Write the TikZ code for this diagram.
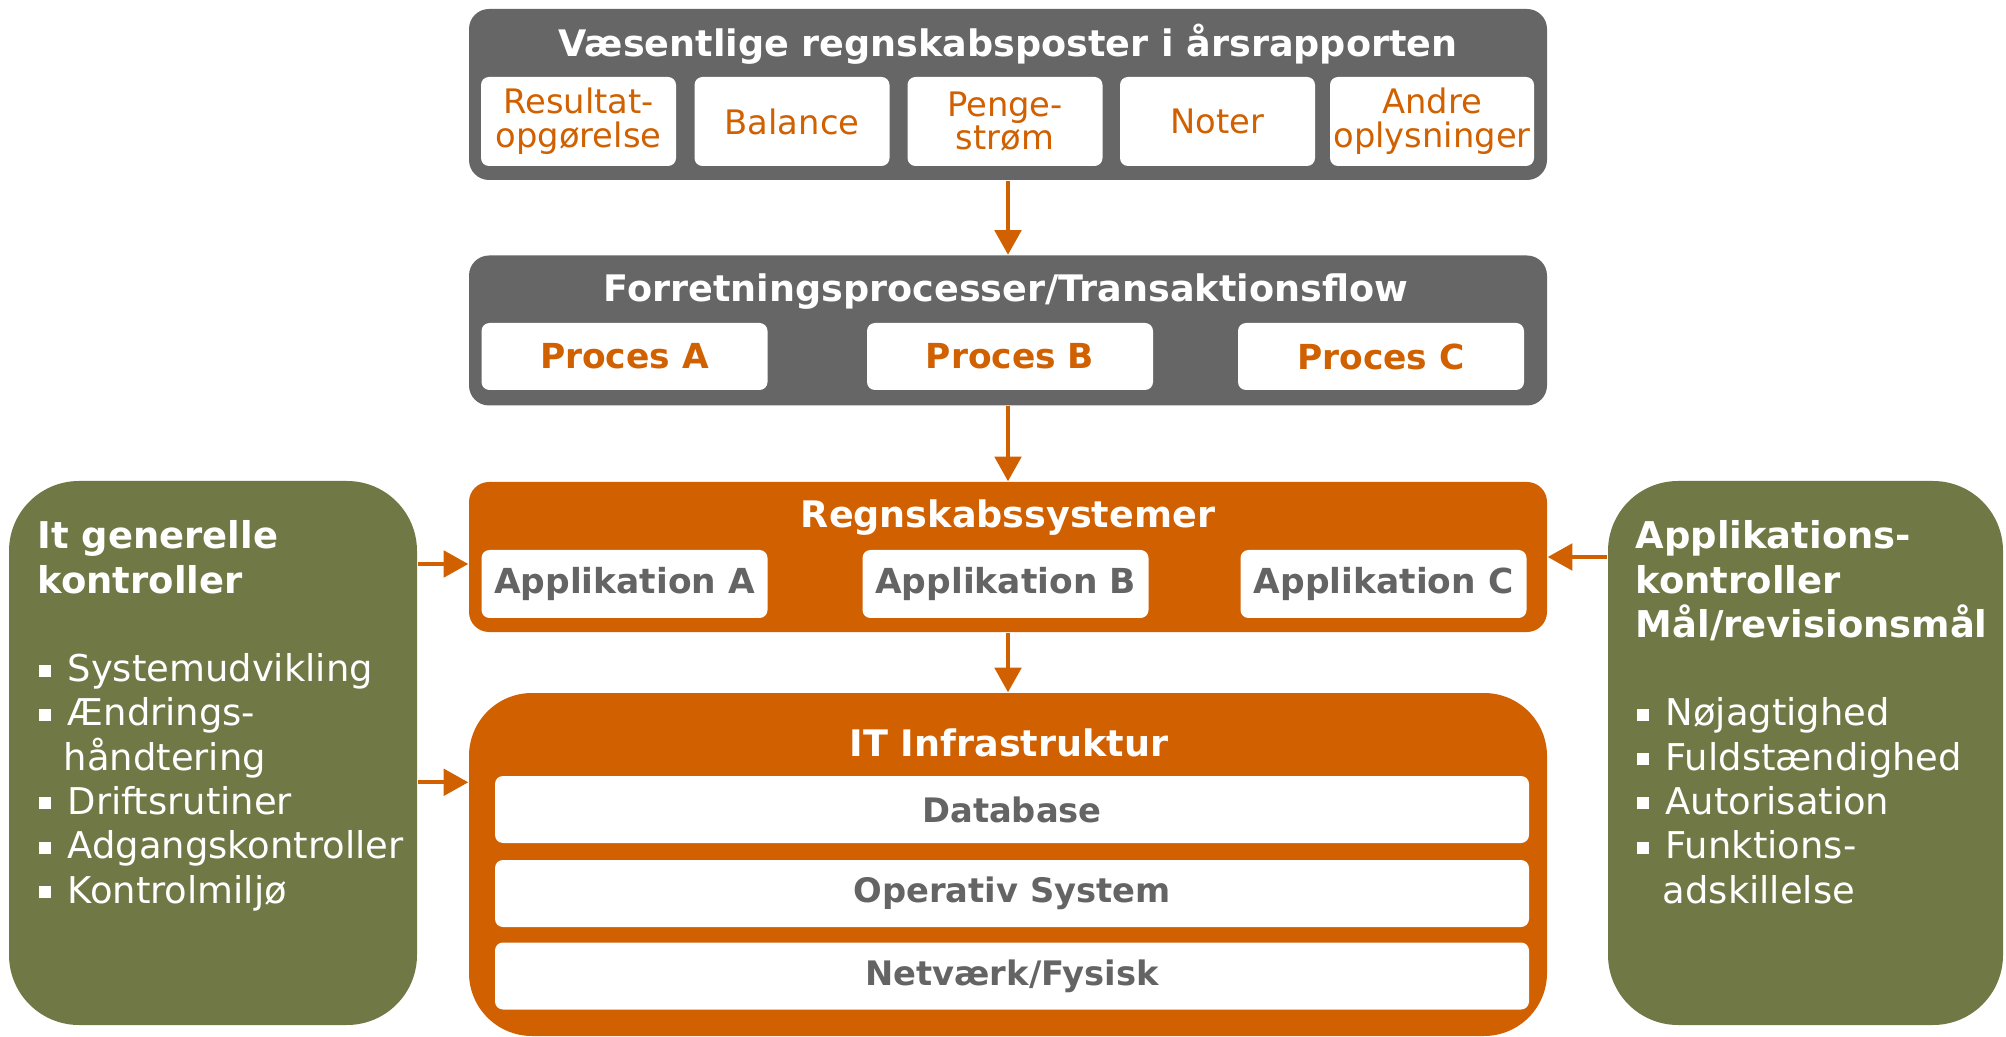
\documentclass[tikz,border=0pt]{standalone}
\usepackage{fontspec}
\setmainfont{DejaVu Sans}
\usepackage{tikz}
\usetikzlibrary{arrows.meta,positioning}
\definecolor{SlateGray}{RGB}{102,102,102}
\definecolor{BurntOrange}{RGB}{208,96,0}
\definecolor{OliveGreen}{RGB}{112,120,69}
\definecolor{TextGray}{RGB}{100,100,100}
\tikzset{
  panel/.style={rectangle, rounded corners=0.2cm, minimum width=10.78cm, inner sep=0pt},
  paneltitle/.style={inner sep=0pt, text=white, font=\fontsize{10.4}{12}\selectfont\bfseries},
  postbox/.style={rectangle, fill=white, rounded corners=0.08cm, minimum width=1.95cm, minimum height=0.89cm,
    inner sep=0pt, align=center, text=BurntOrange, font=\fontsize{9.6}{9.6}\selectfont},
  procbox/.style={rectangle, fill=white, rounded corners=0.08cm, minimum width=2.86cm, minimum height=0.67cm,
    inner sep=0pt, text=BurntOrange, font=\fontsize{9.8}{11}\selectfont\bfseries},
  appbox/.style={procbox, minimum height=0.68cm, text=TextGray},
  layerbox/.style={procbox, minimum width=10.34cm, text=TextGray, font=\fontsize{9.6}{11}\selectfont\bfseries},
  ctrlbox/.style={rectangle, fill=OliveGreen, rounded corners=0.7cm, minimum height=5.44cm, inner sep=0pt},
  ctrltext/.style={anchor=north west, inner sep=0pt, align=left, text=white, font=\fontsize{10.5}{12.6}\selectfont},
  flow/.style={draw=BurntOrange, line width=1.15pt, -{Triangle[width=7.5pt,length=7pt]}}
}
\newcommand{\bul}[1]{\makebox[0.3cm][l]{\hspace{0.01cm}\raisebox{0.05cm}{\rule{0.12cm}{0.12cm}}}#1}

\begin{document}
\begin{tikzpicture}
\useasboundingbox (0,0) rectangle (20.06,-10.37);

% aarsrapport
\node[panel, fill=SlateGray, minimum height=1.71cm] (rap) at (10.08,-0.945) {};
\node[paneltitle, anchor=base] (raptitle) at (10.08,-0.57) {Væsentlige regnskabsposter i årsrapporten};
\node[postbox] (res) at (5.785,-1.215) {Resultat-\\opgørelse};
\node[postbox] (bal) at (7.92,-1.215) {Balance};
\node[postbox] (pen) at (10.05,-1.215) {Penge-\\strøm};
\node[postbox] (not) at (12.175,-1.215) {Noter};
\node[postbox, minimum width=2.04cm] (and) at (14.32,-1.215) {Andre\\oplysninger};

% processer
\node[panel, fill=SlateGray, minimum height=1.50cm] (proc) at (10.08,-3.305) {};
\node[paneltitle, anchor=base] (proctitle) at (10.06,-3.02) {Forretningsprocesser/Transaktionsflow};
\node[procbox] (pa) at (6.245,-3.565) {Proces A};
\node[procbox] (pb) at (10.10,-3.565) {Proces B};
\node[procbox] (pc) at (13.81,-3.565) {Proces C};

% systemer
\node[panel, fill=BurntOrange, minimum height=1.50cm] (reg) at (10.08,-5.57) {};
\node[paneltitle, anchor=base] (regtitle) at (10.08,-5.28) {Regnskabssystemer};
\node[appbox] (aa) at (6.245,-5.84) {Applikation A};
\node[appbox] (ab) at (10.055,-5.84) {Applikation B};
\node[appbox] (ac) at (13.835,-5.84) {Applikation C};

% infrastruktur
\node[panel, fill=BurntOrange, rounded corners=0.63cm, minimum height=3.43cm] (infra) at (10.08,-8.645) {};
\node[paneltitle, anchor=base] (infratitle) at (10.09,-7.56) {IT Infrastruktur};
\node[layerbox] (db) at (10.12,-8.095) {Database};
\node[layerbox] (os) at (10.12,-8.935) {Operativ System};
\node[layerbox] (net) at (10.12,-9.76) {Netværk/Fysisk};

% kontroller
\node[ctrlbox, minimum width=4.08cm] (itgen) at (2.13,-7.53) {};
\node[ctrltext] (itgentxt) at (0.37,-5.20) {\textbf{It generelle}\\\textbf{kontroller}\\[12.6pt]
  \bul{Systemudvikling}\\\bul{Ændrings-}\\\hspace*{0.26cm}håndtering\\\bul{Driftsrutiner}\\
  \bul{Adgangskontroller}\\\bul{Kontrolmiljø}};
\node[ctrlbox, minimum width=3.95cm] (appctl) at (18.055,-7.53) {};
\node[ctrltext] (appctltxt) at (16.35,-5.20) {\textbf{Applikations-}\\\textbf{kontroller}\\\textbf{Mål/revisionsmål}\\[12.6pt]
  \bul{Nøjagtighed}\\\bul{Fuldstændighed}\\\bul{Autorisation}\\\bul{Funktions-}\\\hspace*{0.27cm}adskillelse};

% pile
\draw[flow] (rap.south) -- (proc.north);
\draw[flow] (proc.south) -- (reg.north);
\draw[flow] (reg.south) -- (infra.north);
\draw[flow] ([yshift=-0.07cm]itgen.east |- reg.west) -- ([yshift=-0.07cm]reg.west);
\draw[flow] ([yshift=-0.9cm]itgen.east |- infra.north west) -- ([yshift=-0.9cm]infra.north west);
\draw[flow] (appctl.west |- reg.east) -- (reg.east);
\end{tikzpicture}
\end{document}
